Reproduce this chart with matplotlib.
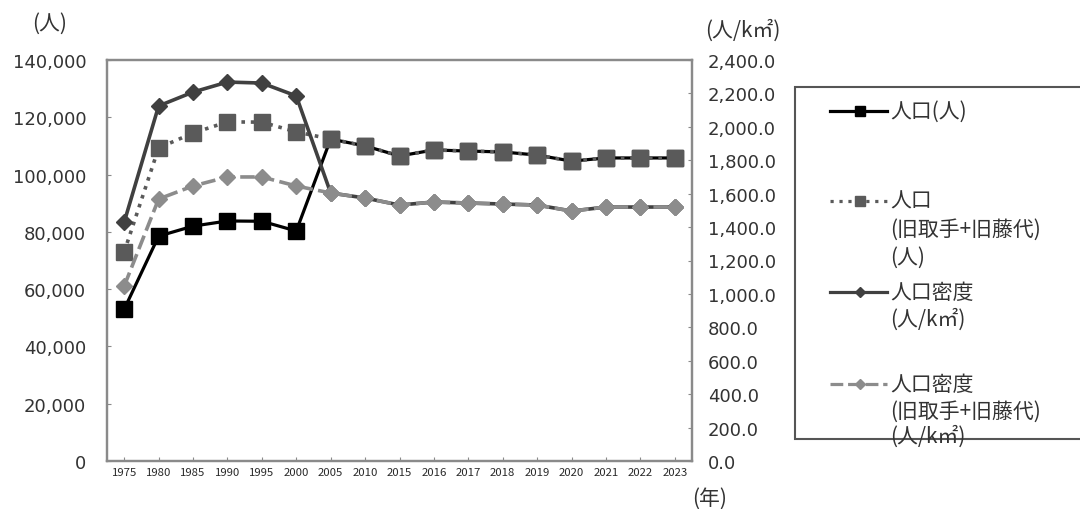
import numpy as np
import matplotlib
matplotlib.use("Agg")
import matplotlib.pyplot as plt
from matplotlib.lines import Line2D
from matplotlib.patches import Rectangle
from matplotlib.ticker import FuncFormatter, MultipleLocator

plt.rcParams['font.family'] = ['Noto Sans CJK JP', 'DejaVu Sans']

years = ['1975', '1980', '1985', '1990', '1995', '2000', '2005', '2010', '2015',
         '2016', '2017', '2018', '2019', '2020', '2021', '2022', '2023']

# 人口（人）
population = [53000, 78500, 82000, 83800, 83700, 80300, 112400, 110000, 106500,
              108600, 108200, 107900, 106800, 104700, 105800, 105800, 105800]
# 人口（旧取手+旧藤代）（人）
population_merged = [73000, 109300, 114500, 118400, 118300, 114900, 112400, 110000, 106500,
                     108600, 108200, 107900, 106800, 104700, 105800, 105800, 105800]
# 人口密度（人/k㎡）
density = [1430, 2125, 2208, 2268, 2262, 2185, 1604, 1574, 1532,
           1550, 1544, 1538, 1532, 1496, 1520, 1520, 1520]
# 人口密度（旧取手+旧藤代）（人/k㎡）
density_merged = [1047, 1568, 1646, 1700, 1700, 1646, 1604, 1574, 1532,
                  1550, 1544, 1538, 1532, 1496, 1520, 1520, 1520]

legend_labels = ['人口(人)',
                 '人口\n(旧取手+旧藤代)\n(人)',
                 '人口密度\n(人/k㎡)',
                 '人口密度\n(旧取手+旧藤代)\n(人/k㎡)']

W, H = 1080, 510
fig = plt.figure(figsize=(W / 100, H / 100), dpi=100)
ax = fig.add_axes([107 / W, 1 - 462 / H, 585 / W, 401 / H])
ax2 = ax.twinx()

x = np.arange(len(years))
spine_col = '#8a8a8a'
text_col = '#333333'
num_font = 'DejaVu Sans'

c_pop = '#000000'
c_popm = '#5a5a5a'
c_den = '#404040'
c_denm = '#8c8c8c'

ax.plot(x, population, color=c_pop, lw=2.3, marker='s', ms=12,
        markerfacecolor=c_pop, markeredgecolor=c_pop, zorder=3)
ax.plot(x, population_merged, color=c_popm, lw=2.6, ls=(0, (1, 1.6)), marker='s', ms=12,
        markerfacecolor=c_popm, markeredgecolor=c_popm, zorder=4)
ax2.plot(x, density, color=c_den, lw=2.6, marker='D', ms=8,
         markerfacecolor=c_den, markeredgecolor=c_den, zorder=3)
ax2.plot(x, density_merged, color=c_denm, lw=2.6, ls=(0, (4, 1.5)), marker='D', ms=8,
         markerfacecolor=c_denm, markeredgecolor=c_denm, zorder=4)

ax.set_xlim(-0.5, len(years) - 0.5)
ax.set_ylim(0, 140000)
ax2.set_ylim(0, 2400)
ax.yaxis.set_major_locator(MultipleLocator(20000))
ax2.yaxis.set_major_locator(MultipleLocator(200))
ax.yaxis.set_major_formatter(FuncFormatter(lambda v, p: f'{int(v):,}'))
ax2.yaxis.set_major_formatter(FuncFormatter(lambda v, p: f'{v:,.1f}'))
ax.set_xticks(x)
ax.set_xticklabels(years)

for a in (ax, ax2):
    for s in a.spines.values():
        s.set_color(spine_col)
        s.set_linewidth(1.6)
ax.tick_params(axis='y', length=3, direction='in', color=spine_col, labelsize=13,
               labelcolor=text_col, pad=15)
ax2.tick_params(axis='y', length=3, direction='in', color=spine_col, labelsize=13,
                labelcolor=text_col, pad=11.5)
ax.tick_params(axis='x', length=3, direction='in', color=spine_col, labelsize=8.2,
               labelcolor='#2a2a2a', pad=4)
for lbl in ax.get_yticklabels() + ax2.get_yticklabels():
    lbl.set_fontfamily(num_font)

# 軸の単位
fig.text(50 / W, 1 - 24 / H, '(人)', fontsize=15, color=text_col, ha='center', va='center')
fig.text(743 / W, 1 - 31 / H, '(人/k㎡)', fontsize=15, color=text_col, ha='center', va='center')
fig.text(710 / W, 1 - 499 / H, '(年)', fontsize=15, color=text_col, ha='center', va='center')

# 凡例
fig.add_artist(Rectangle((795 / W, 1 - 440 / H), (1085 - 795) / W, (440 - 88) / H,
                         transform=fig.transFigure, facecolor='white',
                         edgecolor='#555555', lw=1.5))
styles = [
    dict(color=c_pop, ls='-', marker='s', ms=7),
    dict(color=c_popm, ls=(0, (1, 1.8)), marker='s', ms=7),
    dict(color=c_den, ls='-', marker='D', ms=5.5),
    dict(color=c_denm, ls=(0, (4, 1.5)), marker='D', ms=5.5),
]
line_rows = [[112], [202, 230, 258], [293, 320], [385, 412, 437]]
for label, rows, st in zip(legend_labels, line_rows, styles):
    yf = 1 - rows[0] / H
    fig.add_artist(Line2D([830 / W, 887 / W], [yf, yf], transform=fig.transFigure,
                          color=st['color'], lw=2.3, ls=st['ls']))
    fig.add_artist(Line2D([860 / W], [yf], transform=fig.transFigure, ls='none',
                          marker=st['marker'], ms=st['ms'], color=st['color']))
    for text, yy in zip(label.split('\n'), rows):
        fig.text(890 / W, 1 - yy / H, text, fontsize=15, color=text_col,
                 ha='left', va='center')

fig.savefig('out.png', dpi=100, facecolor='white')
